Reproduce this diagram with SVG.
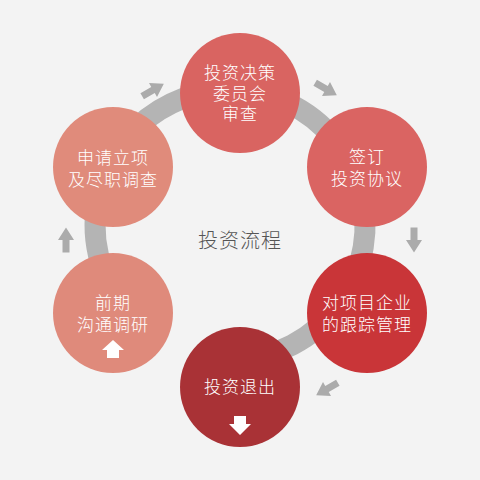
<svg xmlns="http://www.w3.org/2000/svg" xmlns:xlink="http://www.w3.org/1999/xlink" width="480" height="480" viewBox="0 0 480 480">
<style>
.t{font-family:"Noto Sans CJK SC","Noto Sans",sans-serif;font-size:17px;font-weight:300;letter-spacing:1px;fill:#ffffff;text-anchor:middle}
.c{font-family:"Noto Sans CJK SC","Noto Sans",sans-serif;font-size:20px;font-weight:300;letter-spacing:1px;fill:#555555;text-anchor:middle}
.ga{fill:#ababab}
.wa{fill:#ffffff}
</style>
<defs>
<polygon id="ga" class="ga" points="-12.5,-3.5 0,-3.5 0,-8 12.5,0 0,8 0,3.5 -12.5,3.5"/>
</defs>
<rect width="480" height="480" fill="#f3f3f3"/>
<g id="connectors">
<path d="M 122.1 306.1 A 135 135 0 1 1 238.3 359.8" fill="none" stroke="#b4b4b4" stroke-width="21"/>
<use xlink:href="#ga" href="#ga" transform="translate(153,90) rotate(-30)"/>
<use xlink:href="#ga" href="#ga" transform="translate(326,89) rotate(30)"/>
<use xlink:href="#ga" href="#ga" transform="translate(414,240) rotate(90)"/>
<use xlink:href="#ga" href="#ga" transform="translate(327,389) rotate(150)"/>
<use xlink:href="#ga" href="#ga" transform="translate(66,240) rotate(-90)"/>
</g>
<g id="center">
<text class="c" x="240" y="248">投资流程</text>
</g>
<g id="node-decision">
<circle cx="240" cy="93" r="60" fill="#d96461"/>
<text class="t" x="240" y="79">投资决策</text>
<text class="t" x="240" y="100">委员会</text>
<text class="t" x="240" y="120">审查</text>
</g>
<g id="node-sign">
<circle cx="367" cy="167" r="60" fill="#da6462"/>
<text class="t" x="367" y="163">签订</text>
<text class="t" x="367" y="185">投资协议</text>
</g>
<g id="node-track">
<circle cx="367" cy="313" r="60" fill="#c93538"/>
<text class="t" x="367" y="309">对项目企业</text>
<text class="t" x="367" y="331">的跟踪管理</text>
</g>
<g id="node-exit">
<circle cx="240" cy="387" r="60" fill="#a93236"/>
<text class="t" x="240" y="393">投资退出</text>
<polygon class="wa" points="234,416 246,416 246,424 251,424 240,435 229,424 234,424"/>
</g>
<g id="node-research">
<circle cx="113" cy="313" r="60" fill="#df8a7b"/>
<text class="t" x="113" y="309">前期</text>
<text class="t" x="113" y="331">沟通调研</text>
<polygon class="wa" points="107,358 119,358 119,350 124,350 113,340 102,350 107,350"/>
</g>
<g id="node-apply">
<circle cx="113" cy="167" r="60" fill="#e08b7b"/>
<text class="t" x="113" y="164">申请立项</text>
<text class="t" x="113" y="186">及尽职调查</text>
</g>
</svg>
